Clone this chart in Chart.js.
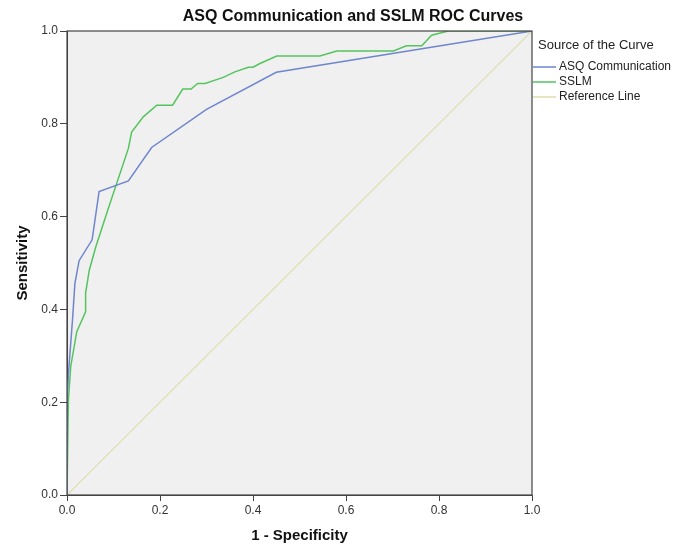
<!DOCTYPE html>
<html>
<head>
<meta charset="utf-8">
<script src="https://cdn.jsdelivr.net/npm/chart.js@4/dist/chart.umd.min.js"></script>
<style>
html,body{margin:0;padding:0;background:#fff;}
#wrap{width:682px;height:547px;}
</style>
</head>
<body>
<div id="wrap"><canvas id="c" width="682" height="547"></canvas></div>
<script>
const chartTitle = "ASQ Communication and SSLM ROC Curves";
const xAxisTitle = "1 - Specificity";
const yAxisTitle = "Sensitivity";
const legendTitle = "Source of the Curve";
const seriesNames = ["ASQ Communication", "SSLM", "Reference Line"];
const tickValues = [0, 0.2, 0.4, 0.6, 0.8, 1.0];

// ASQ Communication ROC curve (1 - specificity, sensitivity)
const asqX = [0, 0, 0.003, 0.012, 0.017, 0.026, 0.054, 0.069, 0.132, 0.182, 0.30, 0.45, 1.0];
const asqY = [0, 0.20, 0.26, 0.38, 0.456, 0.505, 0.55, 0.654, 0.677, 0.749, 0.831, 0.911, 1.0];

// SSLM ROC curve
const sslmX = [0, 0.003, 0.008, 0.021, 0.04, 0.04, 0.048, 0.062, 0.089, 0.132, 0.139, 0.164, 0.193, 0.227, 0.249, 0.267, 0.281, 0.297, 0.336, 0.361, 0.39, 0.40, 0.415, 0.451, 0.544, 0.58, 0.702, 0.73, 0.763, 0.784, 0.82, 1.0];
const sslmY = [0, 0.205, 0.277, 0.352, 0.395, 0.435, 0.485, 0.535, 0.618, 0.747, 0.782, 0.815, 0.84, 0.84, 0.875, 0.875, 0.887, 0.887, 0.90, 0.912, 0.922, 0.922, 0.93, 0.946, 0.946, 0.957, 0.957, 0.968, 0.968, 0.991, 1.0, 1.0];

// Reference diagonal
const refX = [0, 1];
const refY = [0, 1];

const colors = ["#6f86cc", "#55c45e", "#dedcae"];

function pts(xs, ys){ return xs.map((x,i)=>({x:x, y:ys[i]})); }

const FONT = "'Liberation Sans', Arial, sans-serif";

const decor = {
  id: 'decor',
  beforeDraw(chart){
    const {ctx, chartArea:a} = chart;
    ctx.save();
    ctx.fillStyle = '#f0f0f0';
    ctx.fillRect(a.left, a.top, a.right-a.left, a.bottom-a.top);
    ctx.restore();
  },
  afterDraw(chart){
    const {ctx, chartArea:a} = chart;
    ctx.save();
    // border
    ctx.strokeStyle = '#444';
    ctx.lineWidth = 1.2;
    ctx.strokeRect(a.left, a.top, a.right-a.left, a.bottom-a.top);
    // title
    ctx.fillStyle = '#111';
    ctx.font = "bold 16px " + FONT;
    ctx.textAlign = 'center';
    ctx.textBaseline = 'middle';
    ctx.fillText(chartTitle, 353, 17);
    // legend
    ctx.textAlign = 'left';
    ctx.font = "13px " + FONT;
    ctx.fillStyle = '#222';
    ctx.fillText(legendTitle, 538, 45);
    ctx.font = "12px " + FONT;
    const ys = [67, 82, 97];
    chart.data.datasets.forEach((ds, i) => {
      ctx.strokeStyle = ds.borderColor;
      ctx.lineWidth = 1.5;
      ctx.beginPath();
      ctx.moveTo(533, ys[i]);
      ctx.lineTo(556, ys[i]);
      ctx.stroke();
      ctx.fillStyle = '#222';
      ctx.fillText(ds.label, 559, ys[i]);
    });
    ctx.restore();
  }
};

new Chart(document.getElementById('c'), {
  type: 'line',
  data: {
    datasets: [
      {label: seriesNames[0], data: pts(asqX, asqY), borderColor: colors[0], borderWidth: 1.5, pointRadius: 0, fill: false, tension: 0},
      {label: seriesNames[1], data: pts(sslmX, sslmY), borderColor: colors[1], borderWidth: 1.5, pointRadius: 0, fill: false, tension: 0},
      {label: seriesNames[2], data: pts(refX, refY), borderColor: colors[2], borderWidth: 1.2, pointRadius: 0, fill: false, tension: 0}
    ]
  },
  options: {
    responsive: false,
    animation: false,
    devicePixelRatio: 1,
    layout: {padding: {top: 31, right: 150, left: 0, bottom: 0}},
    plugins: {legend: {display: false}, title: {display: false}, tooltip: {enabled: false}},
    scales: {
      x: {
        type: 'linear', min: 0, max: 1,
        afterBuildTicks(s){ s.ticks = tickValues.map(v=>({value:v})); },
        afterFit(s){ s.height = 52; },
        border: {display: true, color: '#444', width: 1},
        grid: {drawOnChartArea: false, drawTicks: true, tickLength: 6, color: '#444'},
        ticks: {font: {family: FONT, size: 12}, color: '#333', padding: 2, maxRotation: 0,
                callback: v => Number(v).toFixed(1)},
        title: {display: true, text: xAxisTitle, font: {family: FONT, size: 15, weight: 'bold'}, color: '#111', padding: {top: 0, bottom: 2}}
      },
      y: {
        type: 'linear', min: 0, max: 1,
        afterBuildTicks(s){ s.ticks = tickValues.map(v=>({value:v})); },
        afterFit(s){ s.width = 67; },
        border: {display: true, color: '#444', width: 1},
        grid: {drawOnChartArea: false, drawTicks: true, tickLength: 7, color: '#444'},
        ticks: {font: {family: FONT, size: 12}, color: '#333', padding: 2,
                callback: v => Number(v).toFixed(1)},
        title: {display: true, text: yAxisTitle, font: {family: FONT, size: 15, weight: 'bold'}, color: '#111', padding: {top: 14, bottom: 0}}
      }
    }
  },
  plugins: [decor]
});
</script>
</body>
</html>
